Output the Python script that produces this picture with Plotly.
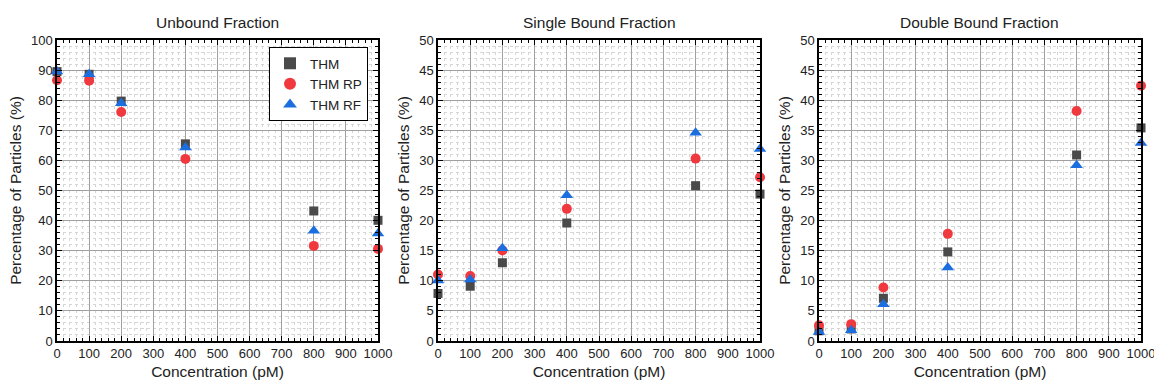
import plotly.graph_objects as go

conc = [0, 100, 200, 400, 800, 1000]

unbound_thm = [89.5, 88.6, 79.7, 65.5, 43.2, 40.1]
unbound_rp = [86.6, 86.5, 76.1, 60.5, 31.6, 30.6]
unbound_rf = [89.5, 88.6, 79.0, 64.3, 36.6, 35.7]

single_thm = [7.9, 9.1, 13.0, 19.6, 25.8, 24.4]
single_rp = [11.05, 10.8, 15.05, 21.95, 30.3, 27.2]
single_rf = [10.05, 10.2, 15.4, 24.2, 34.6, 31.9]

double_thm = [1.7, 2.0, 7.1, 14.8, 30.9, 35.4]
double_rp = [2.6, 2.8, 8.9, 17.8, 38.2, 42.4]
double_rf = [1.5, 1.8, 6.1, 12.2, 29.2, 32.9]

titles = ["Unbound Fraction", "Single Bound Fraction", "Double Bound Fraction"]
series_names = ["THM", "THM RP", "THM RF"]
colors = ["#4a4a4a", "#f0393f", "#1a6ee0"]
symbols = ["square", "circle", "triangle-up"]
sizes = [9, 10, 11]

panels = [
    (unbound_thm, unbound_rp, unbound_rf),
    (single_thm, single_rp, single_rf),
    (double_thm, double_rp, double_rf),
]
yranges = [(0, 100, 10, 2), (0, 50, 5, 1), (0, 50, 5, 1)]

W = 1154.0
H = 385.0
xdoms = [(57 / W, 378 / W), (438 / W, 760 / W), (819 / W, 1141 / W)]
ydom = ((H - 341) / H, (H - 40) / H)

fig = go.Figure()
font = "Liberation Sans, Arial, sans-serif"

for i, data in enumerate(panels):
    xa = "x" if i == 0 else f"x{i+1}"
    ya = "y" if i == 0 else f"y{i+1}"
    for j, vals in enumerate(data):
        fig.add_trace(go.Scatter(
            x=conc, y=vals, mode="markers", name=series_names[j],
            marker=dict(symbol=symbols[j], color=colors[j], size=sizes[j],
                        line=dict(width=0)),
            xaxis=xa, yaxis=ya, showlegend=(i == 0), cliponaxis=False,
        ))
    lo, hi, dt, mdt = yranges[i]
    axcommon = dict(
        showline=True, linecolor="black", linewidth=1.5, mirror="allticks",
        ticks="inside", ticklen=5, tickwidth=1.2, tickcolor="black",
        showgrid=True, gridcolor="#a0a0a0", gridwidth=1,
        zeroline=False, automargin=False, ticklabeloverflow="allow",
        tickfont=dict(family=font, size=13, color="#222"),
    )
    xkey = "xaxis" if i == 0 else f"xaxis{i+1}"
    ykey = "yaxis" if i == 0 else f"yaxis{i+1}"
    fig.layout[xkey] = dict(
        axcommon, domain=list(xdoms[i]), range=[0, 1000], dtick=100, tick0=0,
        anchor=ya,
        minor=dict(dtick=20, ticks="inside", ticklen=3, tickcolor="black",
                   showgrid=True, gridcolor="#d6d6d6", griddash="dot", gridwidth=1),
        title=dict(text="Concentration (pM)", font=dict(family=font, size=15.5, color="#222"),
                   standoff=6),
    )
    fig.layout[ykey] = dict(
        axcommon, domain=list(ydom), range=[lo, hi], dtick=dt, tick0=0,
        anchor=xa,
        minor=dict(dtick=mdt, ticks="inside", ticklen=3, tickcolor="black",
                   showgrid=True, gridcolor="#d6d6d6", griddash="dot", gridwidth=1),
        title=dict(text="Percentage of Particles (%)", font=dict(family=font, size=15.5, color="#222"),
                   standoff=6),
    )
    fig.add_annotation(
        text=titles[i], xref="paper", yref="paper",
        x=(xdoms[i][0] + xdoms[i][1]) / 2, y=(H - 22) / H,
        xanchor="center", yanchor="middle", showarrow=False,
        font=dict(family=font, size=15.5, color="#222"),
    )

fig.update_layout(
    width=1154, height=385,
    margin=dict(l=0, r=0, t=0, b=0),
    paper_bgcolor="white", plot_bgcolor="white",
    legend=dict(
        x=368 / W, y=(H - 47) / H, xanchor="right", yanchor="top",
        bordercolor="black", borderwidth=1, bgcolor="white",
        font=dict(family=font, size=13.5, color="#222"),
        itemsizing="constant", tracegroupgap=0,
    ),
)

fig.write_html("out.html")
